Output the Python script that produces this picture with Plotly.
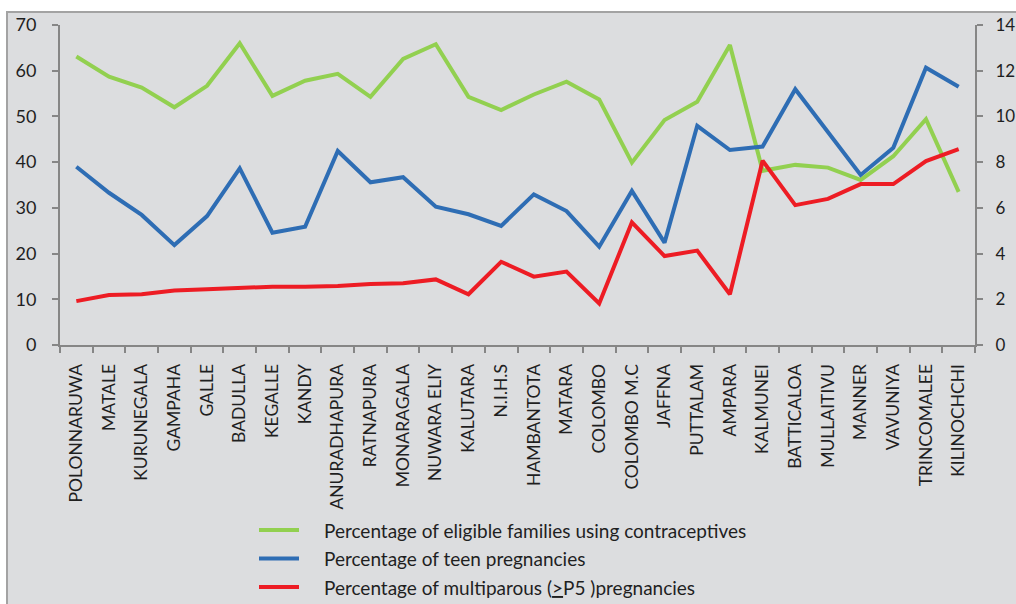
import plotly.graph_objects as go

districts = [
    "POLONNARUWA", "MATALE", "KURUNEGALA", "GAMPAHA", "GALLE", "BADULLA",
    "KEGALLE", "KANDY", "ANURADHAPURA", "RATNAPURA", "MONARAGALA",
    "NUWARA ELIY", "KALUTARA", "N.I.H.S", "HAMBANTOTA", "MATARA", "COLOMBO",
    "COLOMBO M.C", "JAFFNA", "PUTTALAM", "AMPARA", "KALMUNEI", "BATTICALOA",
    "MULLAITIVU", "MANNER", "VAVUNIYA", "TRINCOMALEE", "KILINOCHCHI",
]

# left axis (%)
contraceptive_use = [
    63.1, 58.7, 56.3, 52.0, 56.7, 66.0, 54.5, 57.8, 59.3, 54.3, 62.6, 65.8,
    54.3, 51.4, 54.8, 57.6, 53.7, 39.9, 49.2, 53.2, 65.6, 38.1, 39.4, 38.8,
    36.1, 41.3, 49.4, 33.5,
]

# right axis (%)
teen_pregnancy = [
    7.80, 6.66, 5.69, 4.37, 5.64, 7.73, 4.91, 5.17, 8.49, 7.12, 7.34, 6.05,
    5.72, 5.21, 6.59, 5.86, 4.30, 6.74, 4.48, 9.59, 8.53, 8.68, 11.19, 9.29,
    7.44, 8.63, 12.13, 11.30,
]
multiparous = [
    1.92, 2.19, 2.22, 2.38, 2.44, 2.49, 2.55, 2.55, 2.58, 2.67, 2.70, 2.87,
    2.22, 3.64, 2.99, 3.21, 1.82, 5.37, 3.89, 4.13, 2.22, 8.06, 6.12, 6.39,
    7.04, 7.04, 8.05, 8.57,
]

left_ticks = [0, 10, 20, 30, 40, 50, 60, 70]
right_ticks = [0, 2, 4, 6, 8, 10, 12, 14]

legend_names = [
    "Percentage of eligible families using contraceptives",
    "Percentage of teen pregnancies",
    "Percentage of multiparous (<u>></u>P5 )pregnancies",
]

GREEN = "#92D050"
BLUE = "#2E6DB4"
RED = "#ED1C24"
AXIS = "#868686"
TEXT = "#1F1F1F"
FONT = "Lato"

W, H = 1016, 604
L, R, T, B = 60, 41, 25, 259
PW, PH = W - L - R, H - T - B


def px(x):
    return (x - L) / PW


def py(y):
    return (H - B - y) / PH


fig = go.Figure()
fig.add_trace(go.Scatter(x=districts, y=contraceptive_use, mode="lines",
                         line=dict(color=GREEN, width=4), name=legend_names[0],
                         yaxis="y"))
fig.add_trace(go.Scatter(x=districts, y=teen_pregnancy, mode="lines",
                         line=dict(color=BLUE, width=4), name=legend_names[1],
                         yaxis="y2"))
fig.add_trace(go.Scatter(x=districts, y=multiparous, mode="lines",
                         line=dict(color=RED, width=4), name=legend_names[2],
                         yaxis="y2"))

shapes = [
    # chart area panel with grey frame
    dict(type="rect", xref="paper", yref="paper",
         x0=px(7), x1=px(W + 20), y0=py(12), y1=py(H + 20),
         fillcolor="#DCDDDF", line=dict(color="#A3A3A3", width=2),
         layer="below"),
]
annotations = []
for i, (name, col) in enumerate(zip(legend_names, [GREEN, BLUE, RED])):
    yy = 530 + i * 28.5
    shapes.append(dict(type="line", xref="paper", yref="paper",
                       x0=px(259), x1=px(299), y0=py(yy), y1=py(yy),
                       line=dict(color=col, width=4)))
    annotations.append(dict(xref="paper", yref="paper", x=px(322), y=py(yy),
                            text=name, showarrow=False, xanchor="left",
                            yanchor="middle",
                            font=dict(family=FONT, size=19, color=TEXT)))

fig.update_layout(
    width=W, height=H,
    margin=dict(l=L, r=R, t=T, b=B, autoexpand=False),
    paper_bgcolor="white",
    plot_bgcolor="rgba(0,0,0,0)",
    showlegend=False,
    font=dict(family=FONT, size=18, color=TEXT),
    shapes=shapes,
    annotations=annotations,
    xaxis=dict(
        type="category", range=[-0.5, len(districts) - 0.5],
        tickson="boundaries", ticks="outside", ticklen=6, tickwidth=1.5,
        tickcolor=AXIS, showline=True, linecolor=AXIS, linewidth=2,
        showgrid=False, tickangle=-90, ticklabelstandoff=10,
        tickfont=dict(family=FONT, size=17.5, color=TEXT), automargin=False,
    ),
    yaxis=dict(
        range=[0, 70], tickvals=left_ticks, ticks="outside", ticklen=6,
        tickwidth=1.5, tickcolor=AXIS, showline=True, linecolor=AXIS,
        linewidth=2, showgrid=False, zeroline=False, ticklabelstandoff=12,
        tickfont=dict(family=FONT, size=18, color=TEXT), automargin=False,
    ),
    yaxis2=dict(
        range=[0, 14], tickvals=right_ticks, overlaying="y", side="right",
        ticks="outside", ticklen=6, tickwidth=1.5, tickcolor=AXIS,
        showline=True, linecolor=AXIS, linewidth=2, showgrid=False,
        zeroline=False, ticklabelstandoff=9,
        tickfont=dict(family=FONT, size=17, color=TEXT), automargin=False,
    ),
)

fig.write_html("out.html")
